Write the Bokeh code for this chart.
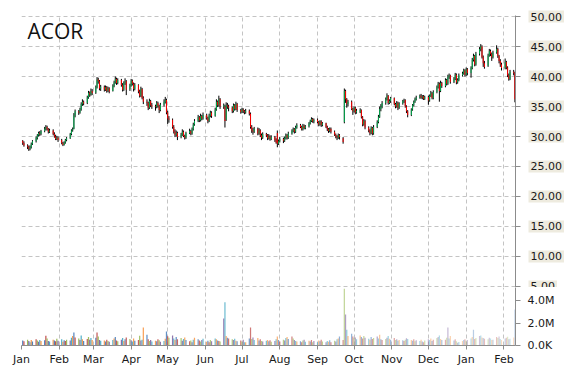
import numpy as np
import pandas as pd
from bokeh.plotting import figure
from bokeh.layouts import column
from bokeh.models import (ColumnDataSource, Range1d, FixedTicker, MonthsTicker,
                          DatetimeTickFormatter, Label, BoxAnnotation)
from bokeh.embed import file_html
from bokeh.resources import INLINE

ticker_name = "ACOR"

opens = [
    29.3, 28.9,
    28.5, 28.3, 27.9, 28.2, 28.8,
    29.2, 29.8, 30.2, 30.6, 30.4,
    30.9, 31.3, 31.6, 31.2, 30.8,
    31.0, 30.4, 30.0, 29.6, 29.8,
    29.4, 28.9, 28.6, 29.0, 29.4,
    29.7, 30.4, 31.0, 31.3, 33.5,
    34.2, 34.0, 34.5, 35.4, 35.8,
    35.6, 36.5, 37.3, 37.0, 37.6,
    37.3, 38.2, 39.5, 39.2, 38.0,
    38.3, 37.8, 38.2, 37.6, 38.0,
    37.6, 38.4, 39.0, 39.6, 38.9,
    39.4, 38.6, 37.8, 38.9, 39.2,
    37.9, 38.5, 39.3, 38.8, 37.9,
    38.6, 37.5, 36.8, 37.9, 36.4,
    35.8, 35.6, 34.8, 35.9, 35.2,
    35.0, 34.9, 35.6, 35.1, 34.4,
    35.3, 35.8, 36.1, 34.0, 33.0,
    32.8, 31.6, 30.8, 30.3, 30.6,
    29.9, 30.3, 30.8, 30.1, 29.8,
    30.6, 30.9, 30.5, 31.2, 32.0,
    32.6, 33.2, 32.7, 33.4, 33.0,
    33.6, 33.1, 32.6, 33.5, 34.0,
    33.4, 34.5, 35.8, 35.2, 36.2,
    35.0, 35.0, 32.8, 35.2, 35.0,
    34.8, 34.2, 35.2, 34.6, 35.4,
    34.4, 34.1, 34.5, 34.2, 34.0,
    34.3, 33.8, 31.6, 31.0, 30.8,
    31.3, 30.5, 31.0, 30.2, 29.8,
    30.4, 30.2, 29.7, 30.0, 29.6,
    29.9, 29.4, 30.6, 28.8, 29.2,
    29.6, 29.3, 29.7, 30.2, 29.8,
    30.5, 30.9, 31.2, 30.8, 31.5,
    31.9, 31.6, 31.2, 31.8, 31.4,
    31.7, 32.2, 32.6, 32.9, 32.5,
    32.8, 32.4, 32.0, 32.5, 31.9,
    32.2, 31.6, 31.2, 30.9, 31.3,
    30.8, 30.3, 30.0, 29.8, 30.2,
    29.7, 32.4, 37.6, 36.2, 35.4,
    35.8, 34.6, 34.2, 34.8, 34.0,
    34.0, 34.4, 33.2, 32.0, 32.6,
    31.5, 31.0, 30.6, 31.4, 30.5,
    31.6, 32.4, 33.3, 34.6, 35.0,
    35.6, 36.2, 36.8, 35.6, 35.9,
    36.4, 35.4, 35.0, 35.6, 34.8,
    35.5, 35.9, 36.1, 35.0, 34.2,
    33.6, 34.5, 35.2, 35.8, 36.2,
    36.5, 36.8, 36.5, 36.7, 36.3,
    36.6, 36.0, 36.8, 37.2, 36.4,
    37.4, 38.2, 38.8, 37.6, 38.9,
    38.4, 39.4, 38.8, 39.9, 40.2,
    39.1, 39.6, 40.3, 39.0, 39.4,
    40.2, 40.5, 41.0, 40.3, 41.2,
    40.6, 41.4, 42.8, 43.4, 42.0,
    43.8, 44.6, 45.0, 43.2, 42.2,
    41.8, 43.5, 44.2, 43.8, 43.2,
    44.0, 44.6, 43.4, 42.6, 42.0,
    41.4, 42.4, 41.5, 40.2, 39.6,
    40.8, 40.6,
]

highs = [
    29.4, 29.2,
    28.7, 28.5, 28.5, 29.0, 29.4,
    30.0, 30.4, 30.8, 30.9, 31.1,
    31.6, 31.9, 31.8, 31.4, 31.3,
    31.2, 30.7, 30.3, 30.1, 30.0,
    29.6, 29.1, 29.2, 29.6, 29.9,
    30.6, 31.2, 31.5, 33.9, 34.5,
    34.4, 34.8, 35.7, 36.2, 36.0,
    36.8, 37.6, 37.5, 38.0, 37.9,
    38.5, 39.9, 39.8, 39.4, 38.6,
    38.5, 38.5, 38.4, 38.3, 38.2,
    38.7, 39.3, 40.0, 39.8, 39.7,
    39.6, 38.9, 39.2, 39.7, 39.4,
    38.8, 39.6, 39.5, 39.0, 38.9,
    38.7, 37.8, 38.3, 38.1, 36.7,
    36.2, 35.8, 36.3, 36.1, 35.6,
    35.3, 35.9, 35.8, 35.3, 35.6,
    36.2, 36.6, 36.3, 34.3, 33.4,
    33.0, 31.9, 31.2, 31.0, 30.8,
    30.6, 31.2, 31.0, 30.3, 30.8,
    31.3, 31.1, 31.5, 32.3, 32.9,
    33.6, 33.4, 33.8, 33.6, 34.0,
    33.8, 33.3, 33.8, 34.3, 34.2,
    34.8, 36.2, 36.0, 36.8, 36.4,
    35.5, 35.3, 35.7, 35.6, 35.3,
    35.0, 35.5, 35.4, 35.8, 35.6,
    34.6, 34.8, 34.7, 34.4, 34.6,
    34.5, 34.0, 31.9, 31.4, 31.6,
    31.5, 31.4, 31.2, 30.5, 30.7,
    30.6, 30.4, 30.4, 30.2, 30.2,
    30.1, 29.7, 31.0, 29.5, 29.9,
    29.8, 30.0, 30.5, 30.4, 30.8,
    31.2, 31.5, 31.4, 31.8, 32.2,
    32.1, 31.8, 32.1, 32.0, 31.9,
    32.4, 32.8, 33.2, 33.1, 33.0,
    33.0, 32.6, 32.7, 32.7, 32.4,
    32.3, 31.8, 31.4, 31.5, 31.5,
    31.0, 30.5, 30.2, 30.5, 30.4,
    29.9, 38.0, 37.8, 36.4, 36.1,
    36.0, 34.8, 35.0, 35.0, 34.6,
    34.7, 34.5, 33.4, 32.9, 32.8,
    31.7, 31.2, 31.7, 31.6, 31.9,
    32.7, 33.6, 35.0, 35.4, 35.9,
    36.5, 37.2, 36.9, 36.2, 36.6,
    36.5, 35.6, 35.9, 35.8, 35.7,
    36.1, 36.3, 36.2, 35.2, 34.4,
    34.7, 35.4, 36.0, 36.5, 36.8,
    37.0, 37.1, 36.9, 36.9, 36.8,
    36.8, 37.0, 37.6, 37.4, 37.7,
    38.5, 39.1, 39.0, 39.3, 39.1,
    39.7, 39.6, 40.3, 40.5, 40.3,
    39.9, 40.6, 40.5, 39.7, 40.5,
    40.8, 41.3, 41.2, 41.5, 41.4,
    41.7, 43.1, 43.8, 43.6, 44.1,
    44.9, 45.4, 45.2, 43.5, 42.6,
    43.8, 44.6, 44.5, 44.0, 44.3,
    45.2, 44.8, 43.6, 42.9, 42.3,
    43.0, 42.6, 41.7, 40.5, 41.1,
    41.1, 40.8,
]

lows = [
    28.6, 28.3,
    27.9, 27.6, 27.7, 28.0, 28.6,
    29.0, 29.5, 30.0, 30.1, 30.2,
    30.7, 31.0, 31.0, 30.5, 30.6,
    30.2, 29.8, 29.4, 29.4, 29.1,
    28.7, 28.4, 28.5, 28.8, 29.2,
    29.6, 30.2, 30.8, 31.2, 33.2,
    33.6, 33.8, 34.3, 35.1, 35.2,
    35.4, 36.3, 36.6, 36.8, 36.9,
    37.1, 38.0, 38.8, 37.7, 37.6,
    37.5, 37.6, 37.3, 37.4, 37.2,
    37.5, 38.2, 38.8, 38.6, 38.7,
    38.3, 37.5, 37.6, 38.6, 36.9,
    37.6, 38.3, 38.5, 37.5, 37.7,
    37.2, 36.5, 36.6, 36.2, 35.4,
    35.1, 34.4, 34.6, 34.9, 34.6,
    34.3, 34.7, 34.8, 33.9, 34.2,
    35.0, 35.5, 33.7, 32.1, 32.3,
    31.3, 30.5, 29.9, 30.0, 29.4,
    29.7, 30.1, 29.9, 29.5, 29.6,
    30.4, 30.2, 30.3, 31.0, 31.8,
    32.4, 32.4, 32.5, 32.7, 32.8,
    32.8, 32.2, 32.4, 33.2, 33.1,
    33.3, 34.3, 34.9, 35.0, 34.6,
    34.6, 31.5, 32.6, 34.6, 34.2,
    33.9, 34.0, 34.3, 34.4, 34.1,
    33.8, 33.9, 33.9, 33.7, 33.8,
    33.5, 31.3, 30.6, 30.3, 30.6,
    30.2, 30.3, 29.9, 29.4, 29.6,
    29.9, 29.4, 29.5, 29.3, 29.4,
    29.1, 28.8, 28.2, 28.6, 29.0,
    28.9, 29.1, 29.5, 29.5, 29.6,
    30.3, 30.7, 30.5, 30.6, 31.3,
    31.4, 31.0, 31.0, 31.2, 31.2,
    31.5, 32.0, 32.4, 32.3, 32.2,
    32.2, 31.7, 31.8, 31.6, 31.7,
    31.4, 30.9, 30.6, 30.7, 30.5,
    30.1, 29.7, 29.4, 29.6, 29.5,
    28.8, 32.2, 35.6, 34.8, 35.0,
    34.4, 33.6, 34.0, 33.7, 33.8,
    33.9, 33.0, 31.7, 31.8, 31.2,
    30.7, 30.2, 30.4, 30.2, 30.3,
    31.4, 32.2, 33.1, 34.2, 34.7,
    35.3, 36.0, 35.3, 35.4, 35.6,
    35.2, 34.7, 34.8, 34.4, 34.6,
    35.3, 35.6, 34.8, 33.9, 33.2,
    33.4, 34.3, 35.0, 35.6, 36.0,
    36.3, 36.3, 36.2, 36.1, 36.1,
    35.3, 35.8, 36.6, 36.2, 36.2,
    37.2, 38.0, 35.8, 37.4, 38.1,
    38.2, 38.5, 38.6, 39.6, 38.8,
    38.9, 39.4, 38.7, 38.8, 39.2,
    40.0, 40.3, 40.0, 40.1, 40.2,
    39.8, 41.2, 42.5, 41.7, 41.8,
    43.5, 44.2, 43.0, 41.6, 41.3,
    41.6, 43.3, 43.4, 42.6, 43.0,
    43.8, 43.1, 42.2, 41.6, 41.0,
    41.2, 41.2, 39.9, 39.3, 39.4,
    40.2, 35.7,
]

closes = [
    28.9, 28.5,
    28.3, 27.9, 28.2, 28.8, 29.2,
    29.8, 30.2, 30.6, 30.4, 30.9,
    31.3, 31.6, 31.2, 30.8, 31.0,
    30.4, 30.0, 29.6, 29.8, 29.4,
    28.9, 28.6, 29.0, 29.4, 29.7,
    30.4, 31.0, 31.2, 33.5, 34.2,
    34.0, 34.5, 35.4, 35.8, 35.5,
    36.5, 37.3, 37.0, 37.6, 37.2,
    38.2, 39.5, 39.2, 38.0, 38.3,
    37.8, 38.2, 37.6, 38.0, 37.5,
    38.4, 39.0, 39.6, 38.9, 39.4,
    38.6, 37.8, 38.9, 39.2, 37.8,
    38.5, 39.3, 38.8, 37.9, 38.6,
    37.5, 36.8, 37.9, 36.4, 35.8,
    35.6, 34.8, 35.9, 35.2, 35.0,
    34.9, 35.6, 35.1, 34.4, 35.3,
    35.8, 36.1, 34.0, 33.0, 32.8,
    31.6, 30.8, 30.3, 30.6, 29.9,
    30.3, 30.8, 30.1, 29.8, 30.6,
    30.9, 30.5, 31.2, 32.0, 32.6,
    33.2, 32.7, 33.4, 33.0, 33.6,
    33.1, 32.6, 33.5, 34.0, 33.4,
    34.5, 35.8, 35.2, 36.2, 35.0,
    35.2, 32.6, 35.2, 35.0, 34.8,
    34.2, 35.2, 34.6, 35.4, 34.4,
    34.1, 34.5, 34.2, 34.0, 34.3,
    33.8, 31.6, 31.0, 30.8, 31.3,
    30.5, 31.0, 30.2, 29.8, 30.4,
    30.2, 29.7, 30.0, 29.6, 29.9,
    29.4, 29.0, 28.8, 29.2, 29.6,
    29.3, 29.7, 30.2, 29.8, 30.5,
    30.9, 31.2, 30.8, 31.5, 31.9,
    31.6, 31.2, 31.8, 31.4, 31.7,
    32.2, 32.6, 32.9, 32.5, 32.8,
    32.4, 32.0, 32.5, 31.9, 32.2,
    31.6, 31.2, 30.9, 31.3, 30.8,
    30.3, 30.0, 29.8, 30.2, 29.9,
    29.1, 37.6, 36.2, 35.4, 35.8,
    34.6, 34.2, 34.8, 34.0, 34.3,
    34.4, 33.2, 32.0, 32.6, 31.5,
    31.0, 30.6, 31.4, 30.5, 31.6,
    32.4, 33.3, 34.6, 35.0, 35.6,
    36.2, 36.8, 35.6, 35.9, 36.4,
    35.4, 35.0, 35.6, 34.8, 35.5,
    35.9, 36.1, 35.0, 34.2, 33.6,
    34.5, 35.2, 35.8, 36.2, 36.5,
    36.8, 36.5, 36.7, 36.3, 36.6,
    36.0, 36.8, 37.2, 36.4, 37.4,
    38.2, 38.8, 37.6, 38.9, 38.4,
    39.4, 38.8, 39.9, 40.2, 39.1,
    39.6, 40.3, 39.0, 39.4, 40.2,
    40.5, 41.0, 40.3, 41.2, 40.6,
    41.4, 42.8, 43.4, 42.0, 43.8,
    44.6, 45.0, 43.2, 42.2, 41.6,
    43.5, 44.2, 43.8, 43.2, 44.0,
    44.6, 43.4, 42.6, 42.0, 41.4,
    42.4, 41.5, 40.2, 39.6, 40.8,
    40.6, 36.2,
]

volumes_m = [
    0.45, 0.38,
    0.52, 0.41, 0.30, 0.48, 0.36,
    0.55, 0.44, 0.33, 0.50, 0.39,
    0.47, 0.86, 0.62, 0.41, 0.35,
    0.52, 0.45, 0.38, 0.60, 0.42,
    0.55, 0.33, 0.46, 0.40, 0.52,
    0.44, 0.68, 0.85, 1.15, 0.72,
    0.62, 0.48, 0.90, 0.55, 0.40,
    0.58, 0.75, 0.52, 0.66, 0.48,
    0.70, 1.15, 0.80, 0.50, 0.42,
    0.45, 0.36, 0.52, 0.40, 0.33,
    0.48, 0.62, 0.75, 0.44, 0.38,
    0.52, 0.66, 0.40, 0.55, 0.72,
    0.58, 0.46, 0.35, 0.62, 0.43,
    0.50, 0.86, 0.45, 0.52, 1.60,
    0.95, 0.55, 0.40, 0.48, 0.36,
    0.42, 0.38, 0.55, 0.46, 0.33,
    0.40, 0.60, 1.24, 0.82, 0.70,
    0.90, 0.62, 0.48, 0.75, 0.55,
    0.66, 0.42, 0.58, 0.72, 0.50,
    0.38, 0.45, 0.30, 0.52, 0.68,
    0.55, 0.44, 0.36, 0.48, 0.60,
    0.33, 0.42, 0.28, 0.50, 0.38,
    0.62, 0.55, 0.45, 0.40, 0.35,
    2.40, 3.85, 0.85, 0.70, 0.62,
    0.55, 0.48, 0.60, 0.42, 0.38,
    0.45, 0.35, 0.52, 0.30, 0.28,
    0.62, 1.60, 0.58, 0.72, 0.50,
    0.66, 0.45, 0.55, 0.40, 0.36,
    0.42, 0.50, 0.38, 0.46, 0.33,
    0.40, 0.55, 0.80, 0.48, 0.36,
    0.52, 0.45, 0.66, 0.75, 0.58,
    0.80, 0.62, 0.48, 0.40, 0.35,
    0.38, 0.30, 0.45, 0.52, 0.33,
    0.42, 0.36, 0.50, 0.28, 0.40,
    0.30, 0.45, 0.38, 0.52, 0.35,
    0.28, 0.40, 0.33, 0.46, 0.30,
    0.42, 0.35, 0.55, 0.62, 0.80,
    0.50, 5.05, 2.75, 1.40, 0.85,
    1.05, 0.80, 0.66, 0.72, 0.55,
    0.90, 0.75, 0.62, 0.85, 0.70,
    0.60, 0.52, 0.75, 0.58, 0.66,
    0.80, 0.62, 0.95, 0.55, 0.48,
    0.58, 0.70, 0.85, 0.60, 0.52,
    0.66, 0.48, 0.55, 0.42, 0.50,
    0.46, 0.40, 0.52, 0.65, 0.58,
    0.48, 0.42, 0.55, 0.38, 0.46,
    0.40, 0.52, 0.35, 0.30, 0.44,
    0.55, 0.48, 0.62, 0.40, 0.52,
    0.66, 0.75, 0.90, 0.58, 0.48,
    0.52, 0.70, 1.60, 0.62, 0.85,
    0.45, 0.55, 0.38, 0.25, 0.32,
    0.40, 0.48, 0.56, 0.42, 0.50,
    0.62, 0.75, 1.40, 0.58, 0.66,
    0.85, 0.90, 0.72, 0.66, 0.60,
    0.55, 0.70, 0.62, 0.48, 0.52,
    0.75, 0.66, 0.80, 0.58, 0.50,
    0.62, 0.70, 0.78, 0.55, 0.60,
    0.72, 3.20,
]

price_ticks = [5, 10, 15, 20, 25, 30, 35, 40, 45, 50]
price_tick_labels = ["5.00", "10.00", "15.00", "20.00", "25.00",
                     "30.00", "35.00", "40.00", "45.00", "50.00"]
volume_ticks = [0, 2000000, 4000000]
volume_tick_labels = ["0.0K", "2.0M", "4.0M"]

n = len(closes)
assert len(opens) == n and len(highs) == n and len(lows) == n and len(volumes_m) == n

dates = pd.bdate_range("2014-01-02", periods=n)
o = np.array(opens); c = np.array(closes)
up = c >= o
UP, DOWN = "#00b050", "#ff0000"
palette = ["#4f81bd", "#c0504d", "#9bbb59", "#8064a2", "#4bacc6", "#f79646"]
t = np.linspace(0.0, 1.0, n)

src = ColumnDataSource(dict(
    date=dates, open=o, high=highs, low=lows, close=c,
    top=np.maximum(o, c), bottom=np.minimum(o, c),
    color=[UP if u else DOWN for u in up],
    vol=np.array(volumes_m) * 1e6,
    vcolor=[palette[i % len(palette)] for i in range(n)],
    valpha=1.0 - 0.68 * t ** 1.4,
))

day_ms = 24 * 3600 * 1000
x_start = pd.Timestamp("2014-01-01")
x_end = pd.Timestamp("2015-02-10 12:00")

FRAME_W = 494       # plotting area width (both panels)
RIGHT_W = 55        # room for the right-hand scale
TOP_PAD = 15        # blank strip above the price area
PX_PER_UNIT = 6.0
P_LO, P_HI = 4.8333, 50.1667
GRID = "#c4c4c4"
AXIS = "#8c8c8c"
FONT = "DejaVu Sans"
TXT = "#1a1a1a"
BEIGE = "#eeebdf"

def style_common(fig):
    fig.outline_line_color = None
    fig.background_fill_color = "white"
    fig.border_fill_color = "white"
    fig.xgrid.ticker = MonthsTicker(months=list(range(12)))
    fig.xgrid.grid_line_color = GRID
    fig.xgrid.grid_line_dash = "4 3"

def style_axis(ax):
    ax.axis_line_color = AXIS
    ax.major_tick_line_color = AXIS
    ax.minor_tick_line_color = None
    ax.major_tick_in = 0
    ax.major_tick_out = 5
    ax.major_label_text_font = FONT
    ax.major_label_text_font_size = "11px"
    ax.major_label_text_color = TXT

# ---- price panel: its frame also covers the scale strip and the top strip,
#      so the boxed scale labels are not cut ----
ms_per_px = (x_end - x_start).total_seconds() * 1000 / FRAME_W
x_end_ext = x_end + pd.Timedelta(milliseconds=ms_per_px * RIGHT_W)
edge_ms = x_end.value / 1e6
y_top_ext = P_HI + TOP_PAD / PX_PER_UNIT
frame_h = int(round((y_top_ext - P_LO) * PX_PER_UNIT))

p = figure(x_axis_type="datetime", x_range=Range1d(x_start, x_end_ext),
           y_range=Range1d(P_LO, y_top_ext),
           frame_width=FRAME_W + RIGHT_W, frame_height=frame_h, min_border_left=21,
           min_border_right=0, min_border_top=0, min_border_bottom=0,
           y_axis_location=None, output_backend="svg", toolbar_location=None)
style_common(p)
p.xaxis.visible = False
p.ygrid.ticker = FixedTicker(ticks=price_ticks)
p.ygrid.grid_line_color = GRID
p.ygrid.grid_line_dash = "4 3"

# white strips hiding grid lines right of the scale line and above the price area
p.add_layout(BoxAnnotation(left=edge_ms, fill_color="white", fill_alpha=1.0,
                           line_color=None, level="underlay"))
p.add_layout(BoxAnnotation(bottom=P_HI, fill_color="white", fill_alpha=1.0,
                           line_color=None, level="underlay"))

p.segment(x0="date", y0="low", x1="date", y1="high", source=src, color="black", line_width=1)
p.vbar(x="date", width=day_ms * 0.8, top="top", bottom="bottom", source=src,
       fill_color="color", line_color=None)

# price scale: line, outward ticks and boxed labels
p.segment(x0=[edge_ms], y0=[P_LO], x1=[edge_ms], y1=[P_HI], line_color=AXIS, line_width=1)
tick_len_ms = ms_per_px * 5
p.segment(x0=[edge_ms] * len(price_ticks), y0=price_ticks,
          x1=[edge_ms + tick_len_ms] * len(price_ticks), y1=price_ticks,
          line_color=AXIS, line_width=1)
for tk, lb in zip(price_ticks, price_tick_labels):
    lab = Label(x=FRAME_W + 13, y=tk, x_units="screen", y_units="data", text=lb,
                text_font=FONT, text_font_size="11px", text_color=TXT,
                text_align="left", text_baseline="middle",
                background_fill_color=BEIGE)
    if "padding" in lab.properties():
        try:
            lab.padding = 2
        except Exception:
            pass
    p.add_layout(lab)

p.add_layout(Label(x=6, y=frame_h - 30, x_units="screen", y_units="screen", text=ticker_name,
                   text_font="Open Sans", text_font_size="21px", text_color="#111111",
                   text_baseline="alphabetic"))

# ---- volume panel ----
v = figure(x_axis_type="datetime", x_range=Range1d(x_start, x_end), y_range=Range1d(0, 5.156e6),
           frame_width=FRAME_W, frame_height=58, min_border_left=21, min_border_right=RIGHT_W,
           min_border_top=0, min_border_bottom=0, y_axis_location="right",
           output_backend="svg", toolbar_location=None)
style_common(v)
for ax in v.yaxis + v.xaxis:
    style_axis(ax)
v.ygrid.visible = False
v.yaxis.ticker = FixedTicker(ticks=volume_ticks)
v.yaxis.major_label_overrides = {tk: lb for tk, lb in zip(volume_ticks, volume_tick_labels)}
v.yaxis.major_label_standoff = 7
v.xaxis.ticker = MonthsTicker(months=list(range(12)))
v.xaxis.formatter = DatetimeTickFormatter(months="%b", days="%b", years="%b")
v.xaxis.major_tick_out = 4
v.xaxis.major_label_standoff = 3
v.vbar(x="date", width=day_ms * 1.0, top="vol", bottom=0, source=src,
       fill_color="vcolor", line_color=None, fill_alpha="valpha")

layout = column(p, v, spacing=0)
open("out.html", "w").write(file_html(layout, INLINE))
